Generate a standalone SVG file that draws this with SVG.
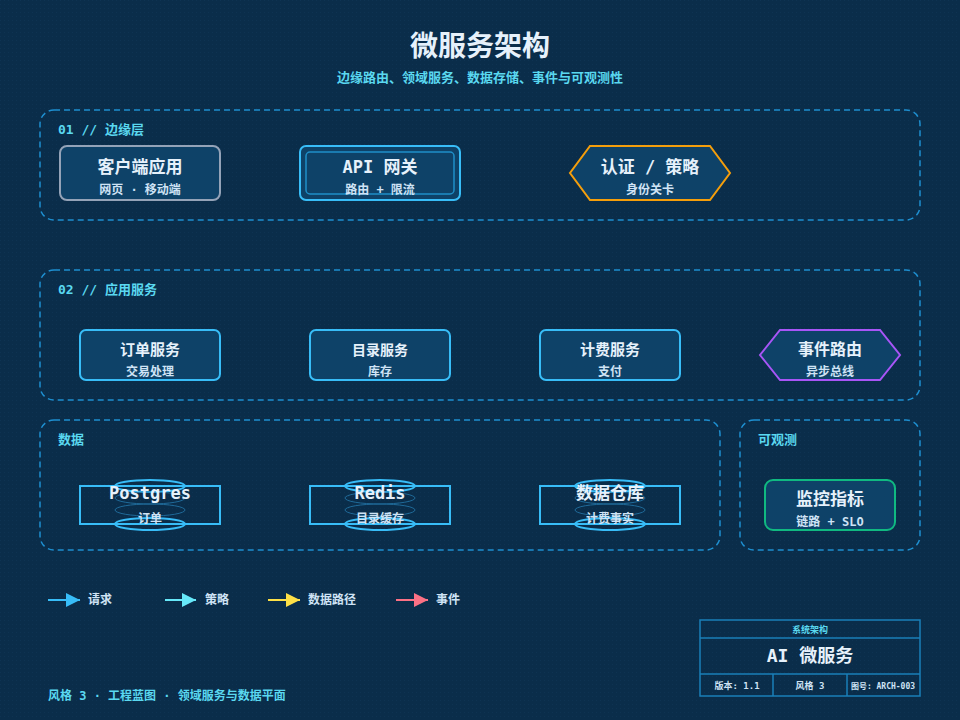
<svg xmlns="http://www.w3.org/2000/svg" width="960" height="720" viewBox="0 0 960 720">
<defs>
<pattern id="grid" width="4" height="4" patternUnits="userSpaceOnUse"><rect width="4" height="4" fill="#0a2d4a"/><rect width="1" height="1" fill="#0e3352"/></pattern>
<marker id="m1" viewBox="0 0 10 10" refX="10" refY="5" markerWidth="22" markerHeight="14" markerUnits="userSpaceOnUse" orient="auto"><path d="M0,0 L10,5 L0,10 Z" fill="#38bdf8"/></marker>
<marker id="m2" viewBox="0 0 10 10" refX="10" refY="5" markerWidth="22" markerHeight="14" markerUnits="userSpaceOnUse" orient="auto"><path d="M0,0 L10,5 L0,10 Z" fill="#67e8f9"/></marker>
<marker id="m3" viewBox="0 0 10 10" refX="10" refY="5" markerWidth="22" markerHeight="14" markerUnits="userSpaceOnUse" orient="auto"><path d="M0,0 L10,5 L0,10 Z" fill="#fde047"/></marker>
<marker id="m4" viewBox="0 0 10 10" refX="10" refY="5" markerWidth="22" markerHeight="14" markerUnits="userSpaceOnUse" orient="auto"><path d="M0,0 L10,5 L0,10 Z" fill="#fb7185"/></marker>
</defs>
<style>
text{font-family:"DejaVu Sans Mono","Noto Sans CJK SC",monospace;font-weight:bold}
.zone{fill:none;stroke:#1e8fd0;stroke-width:1.5;stroke-dasharray:6 4}
.zl{fill:#5ad8f0;font-size:13px}
.node{fill:#0e4268}
.t{fill:#e6f1fb;font-size:17px;text-anchor:middle}
.s{fill:#cfe3f5;font-size:12px;text-anchor:middle}
.cyl{fill:none;stroke:#38bdf8;stroke-width:2}
.cylf{fill:none;stroke:#1f6a99;stroke-width:1}
.leg{fill:#cfe3f5;font-size:12px}
.tb{fill:none;stroke:#1a7fb8;stroke-width:1.5}
</style>
<rect width="960" height="720" fill="url(#grid)"/>
<text x="480" y="56" text-anchor="middle" style="font-size:28px;fill:#e6f1fb">微服务架构</text>
<text x="480" y="82" text-anchor="middle" style="font-size:13px;fill:#5ad8f0">边缘路由、领域服务、数据存储、事件与可观测性</text>

<g id="zone-edge"><rect class="zone" x="40" y="110" width="880" height="110" rx="14"/><text class="zl" x="58" y="134">01 // 边缘层</text></g>
<g id="zone-app"><rect class="zone" x="40" y="270" width="880" height="130" rx="14"/><text class="zl" x="58" y="294">02 // 应用服务</text></g>
<g id="zone-data"><rect class="zone" x="40" y="420" width="680" height="130" rx="14"/><text class="zl" x="58" y="444">数据</text></g>
<g id="zone-obs"><rect class="zone" x="740" y="420" width="180" height="130" rx="14"/><text class="zl" x="758" y="444">可观测</text></g>

<g id="client"><rect class="node" x="60" y="146" width="160" height="54" rx="7" stroke="#94a3b8" stroke-width="2"/><text class="t" x="140" y="173">客户端应用</text><text class="s" x="140" y="194">网页 · 移动端</text></g>
<g id="gateway"><rect class="node" x="300" y="146" width="160" height="54" rx="6" stroke="#38bdf8" stroke-width="2"/><rect x="306" y="152" width="148" height="42" rx="4" fill="none" stroke="#1f8fc8" stroke-width="1.5"/><text class="t" x="380" y="173">API 网关</text><text class="s" x="380" y="194">路由 + 限流</text></g>
<g id="auth"><polygon class="node" points="590,146 710,146 730,173 710,200 590,200 570,173" stroke="#f59e0b" stroke-width="2"/><text class="t" x="650" y="173">认证 / 策略</text><text class="s" x="650" y="194">身份关卡</text></g>

<g id="orders"><rect class="node" x="80" y="330" width="140" height="50" rx="6" stroke="#38bdf8" stroke-width="2"/><text class="t" x="150" y="355" style="font-size:15px">订单服务</text><text class="s" x="150" y="376">交易处理</text></g>
<g id="catalog"><rect class="node" x="310" y="330" width="140" height="50" rx="6" stroke="#38bdf8" stroke-width="2"/><text class="t" x="380" y="355" style="font-size:14px">目录服务</text><text class="s" x="380" y="376">库存</text></g>
<g id="billing"><rect class="node" x="540" y="330" width="140" height="50" rx="6" stroke="#38bdf8" stroke-width="2"/><text class="t" x="610" y="355" style="font-size:15px">计费服务</text><text class="s" x="610" y="376">支付</text></g>
<g id="events"><polygon class="node" points="780,330 880,330 900,355 880,380 780,380 760,355" stroke="#a855f7" stroke-width="2"/><text class="t" x="830" y="355" style="font-size:16px">事件路由</text><text class="s" x="830" y="376">异步总线</text></g>

<g id="postgres"><rect x="80" y="486" width="140" height="38" fill="none" stroke="#38bdf8" stroke-width="2"/><ellipse class="cyl" cx="150" cy="486" rx="35" ry="6"/><ellipse class="cylf" cx="150" cy="498" rx="35" ry="6"/><ellipse class="cylf" cx="150" cy="510" rx="35" ry="6"/><ellipse class="cyl" cx="150" cy="524" rx="35" ry="6"/><text class="t" x="150" y="499">Postgres</text><text class="s" x="150" y="523">订单</text></g>
<g id="redis"><rect x="310" y="486" width="140" height="38" fill="none" stroke="#38bdf8" stroke-width="2"/><ellipse class="cyl" cx="380" cy="486" rx="35" ry="6"/><ellipse class="cylf" cx="380" cy="498" rx="35" ry="6"/><ellipse class="cylf" cx="380" cy="510" rx="35" ry="6"/><ellipse class="cyl" cx="380" cy="524" rx="35" ry="6"/><text class="t" x="380" y="499">Redis</text><text class="s" x="380" y="523">目录缓存</text></g>
<g id="warehouse"><rect x="540" y="486" width="140" height="38" fill="none" stroke="#38bdf8" stroke-width="2"/><ellipse class="cyl" cx="610" cy="486" rx="35" ry="6"/><ellipse class="cylf" cx="610" cy="498" rx="35" ry="6"/><ellipse class="cylf" cx="610" cy="510" rx="35" ry="6"/><ellipse class="cyl" cx="610" cy="524" rx="35" ry="6"/><text class="t" x="610" y="499">数据仓库</text><text class="s" x="610" y="523">计费事实</text></g>

<g id="metrics"><rect class="node" x="765" y="480" width="130" height="50" rx="8" stroke="#10b981" stroke-width="2"/><text class="t" x="830" y="505">监控指标</text><text class="s" x="830" y="526">链路 + SLO</text></g>

<g id="connectors"></g>

<g id="legend">
<line x1="48" y1="600" x2="80" y2="600" stroke="#38bdf8" stroke-width="2" marker-end="url(#m1)"/><text class="leg" x="88" y="604">请求</text>
<line x1="165" y1="600" x2="196" y2="600" stroke="#67e8f9" stroke-width="2" marker-end="url(#m2)"/><text class="leg" x="205" y="604">策略</text>
<line x1="268" y1="600" x2="300" y2="600" stroke="#fde047" stroke-width="2" marker-end="url(#m3)"/><text class="leg" x="308" y="604">数据路径</text>
<line x1="396" y1="600" x2="428" y2="600" stroke="#fb7185" stroke-width="2" marker-end="url(#m4)"/><text class="leg" x="436" y="604">事件</text>
</g>
<text x="48" y="700" style="font-size:12px;fill:#5ad8f0">风格 3 · 工程蓝图 · 领域服务与数据平面</text>

<g id="titleblock">
<rect class="tb" x="700" y="620" width="220" height="76" fill="#0a2d4a"/>
<line class="tb" x1="700" y1="638" x2="920" y2="638"/><line class="tb" x1="700" y1="674" x2="920" y2="674"/>
<line class="tb" x1="773" y1="674" x2="773" y2="696"/><line class="tb" x1="847" y1="674" x2="847" y2="696"/>
<text x="810" y="633" text-anchor="middle" style="font-size:9px;fill:#5ad8f0">系统架构</text>
<text x="810" y="662" text-anchor="middle" style="font-size:18px;fill:#e6f1fb">AI 微服务</text>
<text x="737" y="689" text-anchor="middle" style="font-size:9px;fill:#cfe3f5">版本: 1.1</text>
<text x="810" y="689" text-anchor="middle" style="font-size:9px;fill:#cfe3f5">风格 3</text>
<text x="883" y="689" text-anchor="middle" style="font-size:8px;fill:#cfe3f5">图号: ARCH-003</text>
</g>
</svg>
